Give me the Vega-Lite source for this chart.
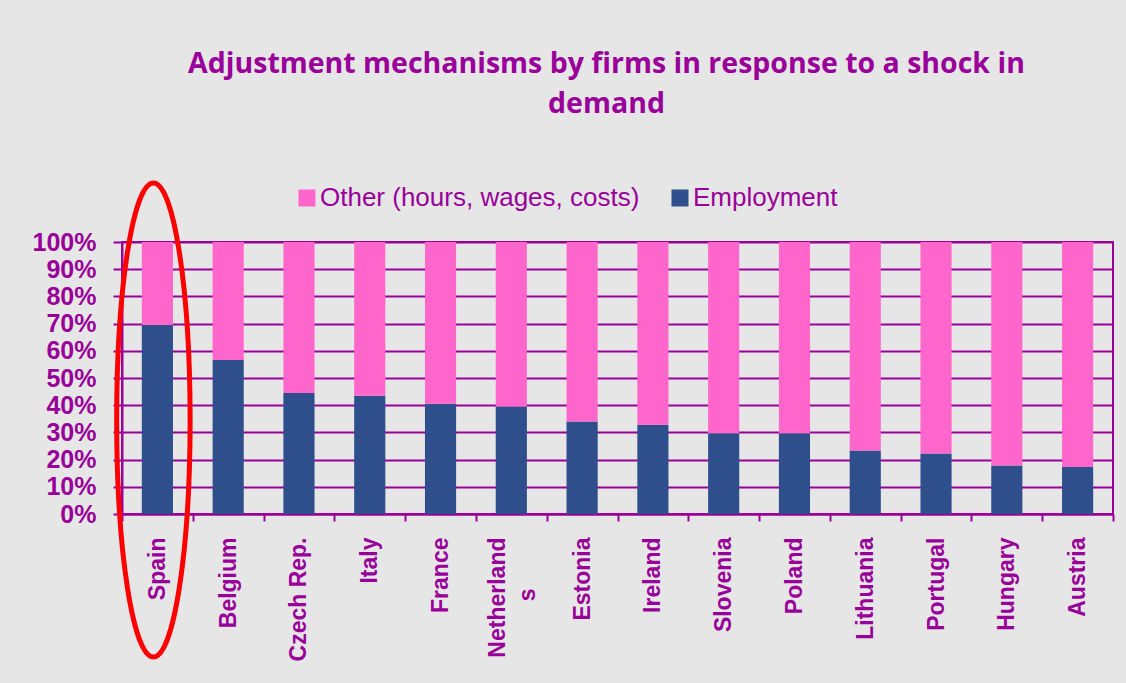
{
  "$schema": "https://vega.github.io/schema/vega-lite/v6.json",
  "width": 991,
  "height": 272,
  "autosize": "none",
  "padding": {"left": 122, "top": 242, "right": 13, "bottom": 169},
  "background": "#e6e6e6",
  "title": {
    "text": ["Adjustment mechanisms by firms in response to a shock in", "demand"],
    "font": "Open Sans",
    "fontSize": 28.5,
    "fontWeight": "bold",
    "color": "#990099",
    "anchor": "middle",
    "lineHeight": 40,
    "offset": 54,
    "dx": -11
  },
  "config": {
    "view": {"stroke": "#990099", "strokeWidth": 2},
    "axis": {"domainColor": "#990099", "tickColor": "#990099", "gridColor": "#990099", "domainWidth": 2, "tickWidth": 2, "gridWidth": 2, "gridOpacity": 1}
  },
  "datasets": {
    "shares": [
      {"country": "Spain", "series": "Employment", "value": 0.695},
      {"country": "Spain", "series": "Other (hours, wages, costs)", "value": 0.305},
      {"country": "Belgium", "series": "Employment", "value": 0.566},
      {"country": "Belgium", "series": "Other (hours, wages, costs)", "value": 0.434},
      {"country": "Czech Rep.", "series": "Employment", "value": 0.445},
      {"country": "Czech Rep.", "series": "Other (hours, wages, costs)", "value": 0.555},
      {"country": "Italy", "series": "Employment", "value": 0.435},
      {"country": "Italy", "series": "Other (hours, wages, costs)", "value": 0.565},
      {"country": "France", "series": "Employment", "value": 0.405},
      {"country": "France", "series": "Other (hours, wages, costs)", "value": 0.595},
      {"country": "Netherlands", "series": "Employment", "value": 0.395},
      {"country": "Netherlands", "series": "Other (hours, wages, costs)", "value": 0.605},
      {"country": "Estonia", "series": "Employment", "value": 0.34},
      {"country": "Estonia", "series": "Other (hours, wages, costs)", "value": 0.66},
      {"country": "Ireland", "series": "Employment", "value": 0.328},
      {"country": "Ireland", "series": "Other (hours, wages, costs)", "value": 0.672},
      {"country": "Slovenia", "series": "Employment", "value": 0.297},
      {"country": "Slovenia", "series": "Other (hours, wages, costs)", "value": 0.703},
      {"country": "Poland", "series": "Employment", "value": 0.297},
      {"country": "Poland", "series": "Other (hours, wages, costs)", "value": 0.703},
      {"country": "Lithuania", "series": "Employment", "value": 0.233},
      {"country": "Lithuania", "series": "Other (hours, wages, costs)", "value": 0.767},
      {"country": "Portugal", "series": "Employment", "value": 0.222},
      {"country": "Portugal", "series": "Other (hours, wages, costs)", "value": 0.778},
      {"country": "Hungary", "series": "Employment", "value": 0.178},
      {"country": "Hungary", "series": "Other (hours, wages, costs)", "value": 0.822},
      {"country": "Austria", "series": "Employment", "value": 0.173},
      {"country": "Austria", "series": "Other (hours, wages, costs)", "value": 0.827}
    ],
    "highlight": [
      {"country": "Spain", "value": 0.3456}
    ]
  },
  "encoding": {
    "x": {
      "field": "country",
      "type": "nominal",
      "sort": null,
      "scale": {"paddingInner": 0, "paddingOuter": 0},
      "axis": {
        "title": null,
        "labelAngle": -90,
        "labelFont": "Liberation Sans",
        "labelFontSize": 23,
        "labelFontWeight": "bold",
        "labelColor": "#990099",
        "labelPadding": 16,
        "labelLineHeight": 30,
        "labelExpr": "datum.value == 'Netherlands' ? ['Netherland', 's\u2800\u2800\u2800'] : datum.value",
        "labelOffset": {"condition": {"test": "datum.value == 'Netherlands'", "value": -14}, "value": 0},
        "tickBand": "extent",
        "tickSize": 7,
        "grid": false,
        "labelOverlap": false
      }
    },
    "y": {
      "field": "value",
      "type": "quantitative",
      "scale": {"domain": [0, 1]},
      "axis": {
        "title": null,
        "values": [0, 0.1, 0.2, 0.3, 0.4, 0.5, 0.6, 0.7, 0.8, 0.9, 1],
        "format": ".0%",
        "labelFont": "Liberation Sans",
        "labelFontSize": 25,
        "labelFontWeight": "bold",
        "labelColor": "#990099",
        "labelPadding": 17,
        "tickSize": 9,
        "grid": true,
        "labelOverlap": false
      }
    }
  },
  "layer": [
    {
      "data": {"name": "shares"},
      "mark": {"type": "bar", "width": {"band": 0.44}},
      "encoding": {
        "color": {
          "field": "series",
          "type": "nominal",
          "scale": {"domain": ["Other (hours, wages, costs)", "Employment"], "range": ["#ff66cc", "#2f4f8c"]},
          "legend": {
            "title": null,
            "orient": "none",
            "direction": "horizontal",
            "legendX": 172,
            "legendY": -57,
            "symbolType": "square",
            "symbolSize": 289,
            "symbolStrokeWidth": 0,
            "labelFont": "Liberation Sans",
            "labelFontSize": 26,
            "labelColor": "#990099",
            "labelOffset": 0,
            "columnPadding": 27,
            "padding": 0,
            "labelLimit": 400
          }
        },
        "order": {"field": "series", "sort": "ascending"}
      }
    },
    {
      "data": {"name": "highlight"},
      "mark": {
        "type": "point",
        "shape": "M0,-1C0.0856,-1 0.155,-0.5523 0.155,0C0.155,0.5523 0.0856,1 0,1C-0.0856,1 -0.155,0.5523 -0.155,0C-0.155,-0.5523 -0.0856,-1 0,-1Z",
        "size": 224676,
        "filled": false,
        "stroke": "#ff0000",
        "strokeWidth": 5,
        "opacity": 1,
        "xOffset": -4
      }
    }
  ]
}
